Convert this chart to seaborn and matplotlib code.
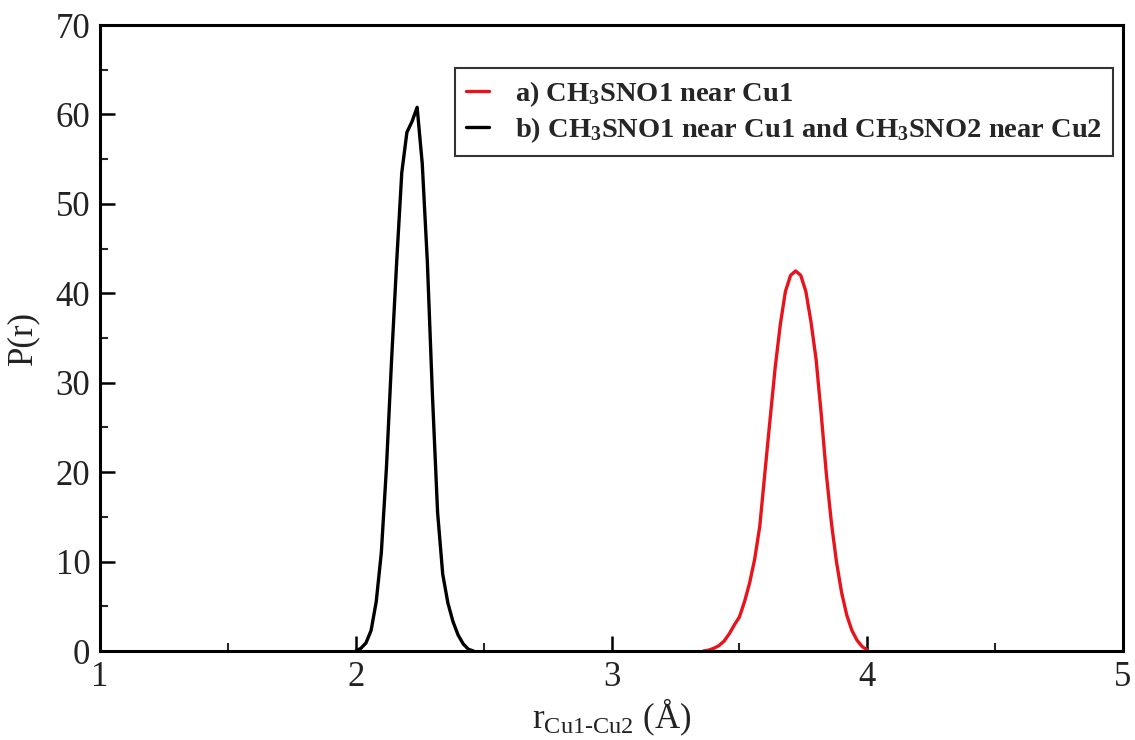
import numpy as np
import pandas as pd
import matplotlib
matplotlib.use("Agg")
import matplotlib.pyplot as plt
from matplotlib.ticker import MultipleLocator
import seaborn as sns

# Distance distributions P(r) for the Cu1-Cu2 separation
r_a = [3.36, 3.38, 3.40, 3.42, 3.44, 3.46, 3.48, 3.50, 3.52, 3.54, 3.56, 3.58,
       3.60, 3.62, 3.64, 3.66, 3.68, 3.70, 3.72, 3.74, 3.76, 3.78, 3.80, 3.82,
       3.84, 3.86, 3.88, 3.90, 3.92, 3.94, 3.96, 3.98, 4.00]
p_a = [0.0, 0.1, 0.3, 0.6, 1.1, 1.9, 2.9, 3.8, 5.5, 7.6, 10.3, 14.0,
       20.0, 25.9, 31.7, 36.5, 40.2, 42.0, 42.5, 42.0, 40.2, 36.8, 32.6, 26.5,
       19.8, 14.3, 9.9, 6.5, 4.0, 2.3, 1.2, 0.5, 0.1]

r_b = [2.00, 2.02, 2.04, 2.06, 2.08, 2.10, 2.12, 2.14, 2.16, 2.18, 2.20, 2.22,
       2.24, 2.26, 2.28, 2.30, 2.32, 2.34, 2.36, 2.38, 2.40, 2.42, 2.44, 2.46]
p_b = [0.0, 0.3, 0.9, 2.3, 5.5, 11.0, 20.5, 32.5, 43.5, 53.5, 58.0, 59.2,
       60.8, 54.5, 43.5, 28.5, 15.5, 8.6, 5.4, 3.3, 1.8, 0.8, 0.2, 0.0]

label_a = r"a) CH$_\mathbf{3}$SNO1 near Cu1"
label_b = r"b) CH$_\mathbf{3}$SNO1 near Cu1 and CH$_\mathbf{3}$SNO2 near Cu2"

x_ticks = [1, 2, 3, 4, 5]
y_ticks = [0, 10, 20, 30, 40, 50, 60, 70]

df = pd.concat([
    pd.DataFrame({"r": r_a, "P": p_a, "system": label_a}),
    pd.DataFrame({"r": r_b, "P": p_b, "system": label_b}),
], ignore_index=True)

sns.set_theme(style="ticks")
plt.rcParams["font.family"] = ["Liberation Serif", "DejaVu Serif"]
plt.rcParams["mathtext.fontset"] = "custom"
plt.rcParams["mathtext.rm"] = "Liberation Serif"
plt.rcParams["mathtext.it"] = "Liberation Serif:italic"
plt.rcParams["mathtext.bf"] = "Liberation Serif:bold"

fig = plt.figure(figsize=(11.35, 7.40), dpi=100)
ax = fig.add_axes([100 / 1135, 89 / 740, 1023 / 1135, 626 / 740])

sns.lineplot(data=df, x="r", y="P", hue="system", sort=False,
             palette={label_a: "#e8141c", label_b: "#000000"},
             hue_order=[label_a, label_b], linewidth=2.4, ax=ax,
             estimator=None)

ax.set_xlim(1, 5)
ax.set_ylim(0, 70)
ax.set_xticks(x_ticks)
ax.set_yticks(y_ticks)
ax.xaxis.set_minor_locator(MultipleLocator(0.5))
ax.yaxis.set_minor_locator(MultipleLocator(5))
ax.tick_params(which="major", direction="in", length=11, width=1.8,
               labelsize=25, pad=7, color="black", labelcolor="#222222")
ax.tick_params(which="minor", direction="in", length=6, width=1.5)
ax.tick_params(top=False, right=False, which="both")
for s in ax.spines.values():
    s.set_linewidth(2.2)
    s.set_color("black")

ax.set_xlabel(r"r$_{\mathrm{Cu1\text{-}Cu2}}$ (Å)", fontsize=25, labelpad=2,
              color="#222222")
ax.set_ylabel("P(r)", fontsize=25, labelpad=12, color="#222222")

leg = ax.legend(loc="upper left", bbox_to_anchor=(0.347, 0.931),
                borderaxespad=0, frameon=True, fancybox=False,
                handlelength=0.8, handletextpad=0.9, labelspacing=0.2,
                borderpad=0.4, prop={"family": "Liberation Serif",
                                     "weight": "bold", "size": 20.5})
leg.get_frame().set_edgecolor("black")
leg.get_frame().set_linewidth(1.5)
for line in leg.get_lines():
    line.set_linewidth(2.4)

fig.savefig("out.png", dpi=100)
